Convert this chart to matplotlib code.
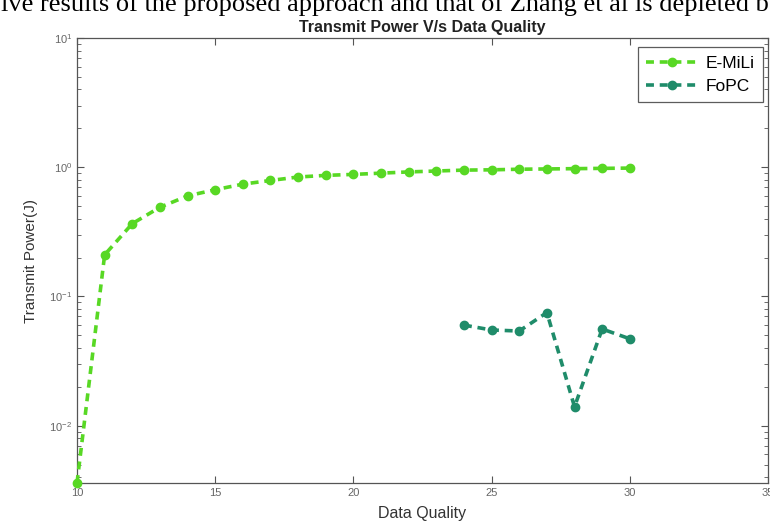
import matplotlib
matplotlib.use("Agg")
import matplotlib.pyplot as plt
from matplotlib.ticker import LogLocator, NullFormatter

plt.rcParams['font.family'] = ['Liberation Sans', 'DejaVu Sans']

x_emili = [10, 11, 12, 13, 14, 15, 16, 17, 18, 19, 20, 21, 22, 23, 24, 25, 26, 27, 28, 29, 30]
y_emili = [0.0036, 0.21, 0.366, 0.49, 0.60, 0.67, 0.74, 0.79, 0.84, 0.865, 0.88, 0.90, 0.92,
           0.935, 0.95, 0.955, 0.965, 0.97, 0.975, 0.98, 0.985]
x_fopc = [24, 25, 26, 27, 28, 29, 30]
y_fopc = [0.060, 0.055, 0.054, 0.075, 0.014, 0.056, 0.047]
xticks = [10, 15, 20, 25, 30, 35]

fig = plt.figure(figsize=(7.7, 5.31), dpi=100)
ax = fig.add_axes([0.1, 0.0904, 0.8974, 0.8380])

c_emili = "#58d824"
c_fopc = "#1f8c6a"
ax.plot(x_emili, y_emili, linestyle=(0, (2.2, 1.6)), color=c_emili, lw=2.6,
        marker='o', ms=6, mfc=c_emili, mec=c_emili, label="E-MiLi", clip_on=False, zorder=3)
ax.plot(x_fopc, y_fopc, linestyle=(0, (2.2, 1.6)), color=c_fopc, lw=2.6,
        marker='o', ms=6, mfc=c_fopc, mec=c_fopc, label="FoPC", zorder=3)

ax.set_yscale('log')
ax.set_xlim(10, 35)
ax.set_ylim(y_emili[0], 10)
ax.set_xticks(xticks)
ax.yaxis.set_major_locator(LogLocator(base=10, numticks=10))
ax.yaxis.set_minor_locator(LogLocator(base=10, subs=range(2, 10), numticks=20))
ax.yaxis.set_minor_formatter(NullFormatter())

for s in ax.spines.values():
    s.set_color("#555555")
    s.set_linewidth(0.9)
ax.tick_params(which='both', direction='in', top=True, right=True, colors="#555555",
               labelcolor="#666666", labelsize=8)
ax.tick_params(which='major', length=5)
ax.tick_params(which='minor', length=3)

ax.set_title("Transmit Power V/s Data Quality", fontsize=11.5, fontweight='bold',
             color="#222222", pad=4)
ax.set_xlabel("Data Quality", fontsize=11.5, color="#333333", labelpad=6)
ax.set_ylabel("Transmit Power(J)", fontsize=11, color="#333333", labelpad=8)

leg = ax.legend(loc='upper right', fontsize=12.5, frameon=True, fancybox=False,
                edgecolor="#333333", handlelength=3.0, borderpad=0.5,
                labelspacing=0.45, handletextpad=0.4, borderaxespad=0,
                bbox_to_anchor=(0.993, 0.98))
leg.get_frame().set_linewidth(0.9)

fig.text(0.5, 1 - 11 / 531, "ive results of the proposed approach and that of Zhang et al is depleted b",
         ha='center', va='baseline', fontsize=19, family='Liberation Serif', color='black')

fig.savefig("out.png", dpi=100)
